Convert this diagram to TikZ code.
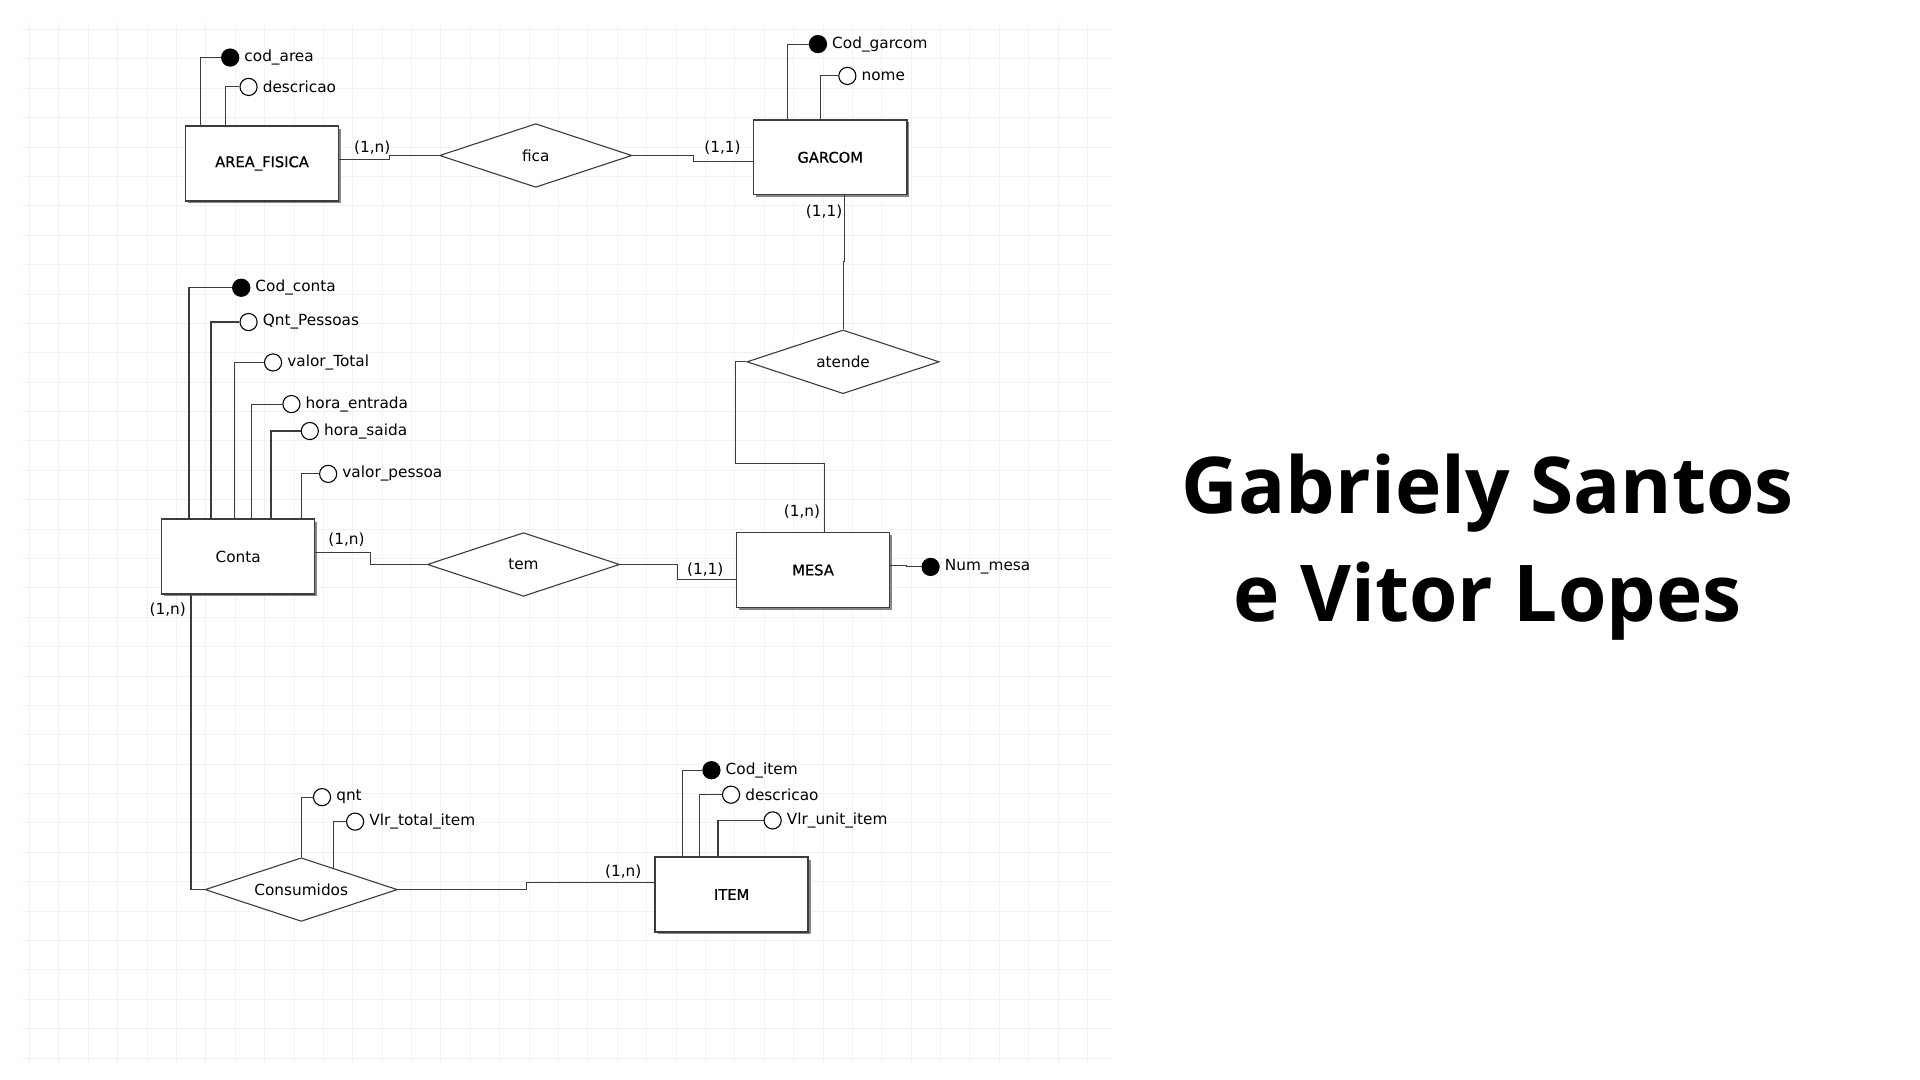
\documentclass[tikz,border=0pt]{standalone}
\usepackage{fontspec}
\setmainfont{DejaVu Sans}
\newfontfamily\titlefont{Open Sans}
\newfontfamily\entfont[FakeBold=0.7]{DejaVu Sans}
\usetikzlibrary{shapes.geometric,shadows,calc}

\definecolor{linha}{RGB}{60,60,60}
\definecolor{sombra}{RGB}{135,135,135}
\definecolor{grade}{RGB}{239,243,249}

\tikzset{
  entidade/.style={draw=linha, line width=1.3pt, fill=white,
    minimum width=125pt, minimum height=61pt,
    font=\entfont\fontsize{12}{14}\selectfont,
    general shadow={fill=sombra, shadow xshift=2pt, shadow yshift=-2pt}},
  relacao/.style={diamond, draw=linha, line width=0.9pt, fill=white, aspect=3,
    minimum width=157pt, minimum height=52pt, inner sep=0pt,
    font=\fontsize{12.5}{14}\selectfont},
  atributo/.style={circle, draw=black, line width=0.9pt, fill=white,
    minimum size=14pt, inner sep=0pt},
  chave/.style={atributo, fill=black},
  rotulo/.style={font=\fontsize{12.5}{14}\selectfont, inner sep=1.5pt, label distance=2.5pt},
  card/.style={font=\fontsize{12.5}{14}\selectfont, inner sep=0pt},
  liga/.style={draw=linha, line width=0.9pt},
}

\begin{document}
\begin{tikzpicture}[x=1pt, y=-1pt]
  \fill[white] (0,0) rectangle (1568,882);
  \useasboundingbox (0,0) rectangle (1568,882);

  % grade de fundo
  \draw[grade, line width=0.6pt] (18,868) grid[step=24pt] (908,18);

  % entidades
  \node[entidade] (area) at (214,133.5) {AREA\_FISICA};
  \node[entidade] (garcom) at (678,128.5) {GARCOM};
  \node[entidade, font=\fontsize{12.5}{14}\selectfont] (conta) at (194.5,454.5) {Conta};
  \node[entidade] (mesa) at (664,465.5) {MESA};
  \node[entidade] (item) at (597.5,730.5) {ITEM};

  % relacionamentos
  \node[relacao] (fica) at (437.5,127) {fica};
  \node[relacao] (atende) at (688.5,295.5) {atende};
  \node[relacao] (tem) at (427.5,461) {tem};
  \node[relacao] (cons) at (246,726.5) {Consumidos};

  % atributos AREA_FISICA
  \node[chave, label={[rotulo]right:cod\_area}] (codarea) at (188,47) {};
  \node[atributo, label={[rotulo]right:descricao}] (descarea) at (203,71) {};
  \draw[liga] (area.north west) ++(13,0) |- (codarea);
  \draw[liga] (area.north west) ++(33,0) |- (descarea);

  % atributos GARCOM
  \node[chave, label={[rotulo]right:Cod\_garcom}] (codgarcom) at (668,36) {};
  \node[atributo, label={[rotulo]right:nome}] (nome) at (692,62) {};
  \draw[liga] (garcom.north west) ++(28,0) |- (codgarcom);
  \draw[liga] (garcom.north west) ++(55,0) |- (nome);

  % atributos Conta
  \node[chave, label={[rotulo]right:Cod\_conta}] (codconta) at (197,235) {};
  \node[atributo, label={[rotulo]right:Qnt\_Pessoas}] (qntpessoas) at (203,263) {};
  \node[atributo, label={[rotulo]right:valor\_Total}] (valortotal) at (223,296) {};
  \node[atributo, label={[rotulo]right:hora\_entrada}] (horaentrada) at (238,330) {};
  \node[atributo, label={[rotulo]right:hora\_saida}] (horasaida) at (253,352) {};
  \node[atributo, label={[rotulo]right:valor\_pessoa}] (valorpessoa) at (268,387) {};
  \draw[liga] (conta.north west) ++(23,0) |- (codconta);
  \draw[liga] (conta.north west) ++(41,0) |- (qntpessoas);
  \draw[liga] (conta.north west) ++(60,0) |- (valortotal);
  \draw[liga] (conta.north west) ++(74,0) |- (horaentrada);
  \draw[liga] (conta.north west) ++(90,0) |- (horasaida);
  \draw[liga] (conta.north west) ++(115,0) |- (valorpessoa);

  % atributo MESA
  \node[chave, label={[rotulo]right:Num\_mesa}] (nummesa) at (760,463) {};
  \draw[liga] ([yshift=4pt]mesa.east) -- ++(13,0) |- (nummesa);

  % atributos ITEM
  \node[chave, label={[rotulo]right:Cod\_item}] (coditem) at (581,629) {};
  \node[atributo, label={[rotulo]right:descricao}] (descitem) at (597,649) {};
  \node[atributo, label={[rotulo]right:Vlr\_unit\_item}] (vlrunit) at (631,670) {};
  \draw[liga] (item.north west) ++(23,0) |- (coditem);
  \draw[liga] (item.north west) ++(37,0) |- (descitem);
  \draw[liga] (item.north west) ++(52,0) |- (vlrunit);

  % atributos Consumidos
  \node[atributo, label={[rotulo]right:qnt}] (qnt) at (263,651) {};
  \node[atributo, label={[rotulo]right:Vlr\_total\_item}] (vlrtotal) at (290,671) {};
  \draw[liga] (cons.north) |- (qnt);
  \draw[liga] ($(cons.north)!0.33!(cons.east)$) |- (vlrtotal);

  % ligacoes
  \draw[liga] ([yshift=3.5pt]area.east) -- ++(41,0) |- (fica.west);
  \draw[liga] (fica.east) -- ++(50,0) |- ([yshift=-3.5pt]garcom.west);
  \draw[liga] ([xshift=12pt]garcom.south) -- ++(0,54) -| (atende.north);
  \draw[liga] (atende.west) -| ++(-9,83) -| ([xshift=9pt]mesa.north);
  \draw[liga] ([yshift=3.5pt]conta.east) -- ++(45,0) |- (tem.west);
  \draw[liga] (tem.east) -- ++(47,0) |- ([yshift=-7.5pt]mesa.west);
  \draw[liga] ([xshift=-38.5pt]conta.south) |- (cons.west);
  \draw[liga] (cons.east) -- ++(105,0) |- ([yshift=9.5pt]item.west);

  % cardinalidades
  \node[card] (c1) at (304,121) {(1,n)};
  \node[card] (c2) at (590,121) {(1,1)};
  \node[card] (c3) at (673,173) {(1,1)};
  \node[card] (c4) at (655,418) {(1,n)};
  \node[card] (c5) at (283,441) {(1,n)};
  \node[card] (c6) at (576,465) {(1,1)};
  \node[card] (c7) at (137,498) {(1,n)};
  \node[card] (c8) at (509,712) {(1,n)};

  % titulo
  \node[font=\titlefont\bfseries\fontsize{64}{88}\selectfont, align=center]
    (titulo) at (1215,447) {Gabriely Santos\\e Vitor Lopes};
\end{tikzpicture}
\end{document}
